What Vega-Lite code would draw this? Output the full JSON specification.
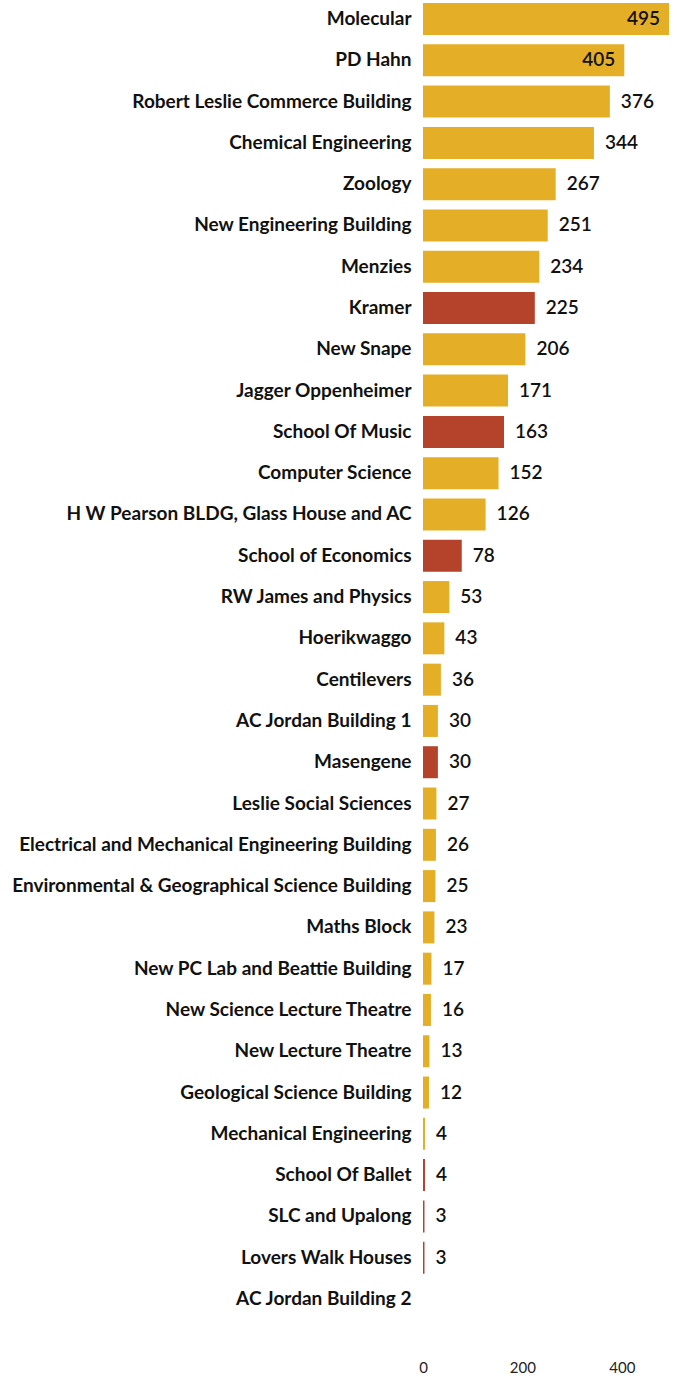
{
  "$schema": "https://vega.github.io/schema/vega-lite/v6.json",
  "width": 246,
  "height": 1318,
  "padding": {"left": 11, "top": 0, "right": 5, "bottom": 5},
  "background": "white",
  "config": {"view": {"stroke": null}, "font": "Lato"},
  "data": {"values": [
    {"building": "Molecular", "count": 495, "group": "a"},
    {"building": "PD Hahn", "count": 405, "group": "a"},
    {"building": "Robert Leslie Commerce Building", "count": 376, "group": "a"},
    {"building": "Chemical Engineering", "count": 344, "group": "a"},
    {"building": "Zoology", "count": 267, "group": "a"},
    {"building": "New Engineering Building", "count": 251, "group": "a"},
    {"building": "Menzies", "count": 234, "group": "a"},
    {"building": "Kramer", "count": 225, "group": "b"},
    {"building": "New Snape", "count": 206, "group": "a"},
    {"building": "Jagger Oppenheimer", "count": 171, "group": "a"},
    {"building": "School Of Music", "count": 163, "group": "b"},
    {"building": "Computer Science", "count": 152, "group": "a"},
    {"building": "H W Pearson BLDG, Glass House and AC", "count": 126, "group": "a"},
    {"building": "School of Economics", "count": 78, "group": "b"},
    {"building": "RW James and Physics", "count": 53, "group": "a"},
    {"building": "Hoerikwaggo", "count": 43, "group": "a"},
    {"building": "Centilevers", "count": 36, "group": "a"},
    {"building": "AC Jordan Building 1", "count": 30, "group": "a"},
    {"building": "Masengene", "count": 30, "group": "b"},
    {"building": "Leslie Social Sciences", "count": 27, "group": "a"},
    {"building": "Electrical and Mechanical Engineering Building", "count": 26, "group": "a"},
    {"building": "Environmental & Geographical Science Building", "count": 25, "group": "a"},
    {"building": "Maths Block", "count": 23, "group": "a"},
    {"building": "New PC Lab and Beattie Building", "count": 17, "group": "a"},
    {"building": "New Science Lecture Theatre", "count": 16, "group": "a"},
    {"building": "New Lecture Theatre", "count": 13, "group": "a"},
    {"building": "Geological Science Building", "count": 12, "group": "a"},
    {"building": "Mechanical Engineering", "count": 4, "group": "a"},
    {"building": "School Of Ballet", "count": 4, "group": "b"},
    {"building": "SLC and Upalong", "count": 3, "group": "b"},
    {"building": "Lovers Walk Houses", "count": 3, "group": "b"},
    {"building": "AC Jordan Building 2", "count": 0, "group": "a"}
  ]},
  "encoding": {
    "y": {
      "field": "building", "type": "nominal", "sort": null,
      "scale": {"paddingInner": 0.225, "paddingOuter": 0.073},
      "axis": {"title": null, "domain": false, "ticks": false, "labelPadding": 12,
        "labelFont": "Lato", "labelFontSize": 19, "labelFontWeight": "bold", "labelColor": "#111111", "labelLimit": 500}
    },
    "x": {
      "field": "count", "type": "quantitative",
      "scale": {"domain": [0, 495], "nice": false},
      "axis": {"title": null, "domain": false, "ticks": false, "grid": false, "values": [0, 200, 400],
        "labelPadding": 42, "labelFont": "Lato", "labelFontSize": 15, "labelColor": "#222222", "labelFlush": false}
    }
  },
  "layer": [
    {
      "mark": {"type": "bar"},
      "encoding": {
        "color": {"field": "group", "type": "nominal", "legend": null,
          "scale": {"domain": ["a", "b"], "range": ["#E4AF26", "#B5432C"]}}
      }
    },
    {
      "transform": [{"filter": "datum.count > 0 && datum.count < 400"}],
      "mark": {"type": "text", "align": "left", "baseline": "middle", "dx": 11, "font": "Lato", "fontSize": 19, "fontWeight": 600, "color": "#111111"},
      "encoding": {"text": {"field": "count", "type": "quantitative"}}
    },
    {
      "transform": [{"filter": "datum.count >= 400"}],
      "mark": {"type": "text", "align": "right", "baseline": "middle", "dx": -9, "font": "Lato", "fontSize": 19, "fontWeight": 600, "color": "#111111"},
      "encoding": {"text": {"field": "count", "type": "quantitative"}}
    }
  ]
}
